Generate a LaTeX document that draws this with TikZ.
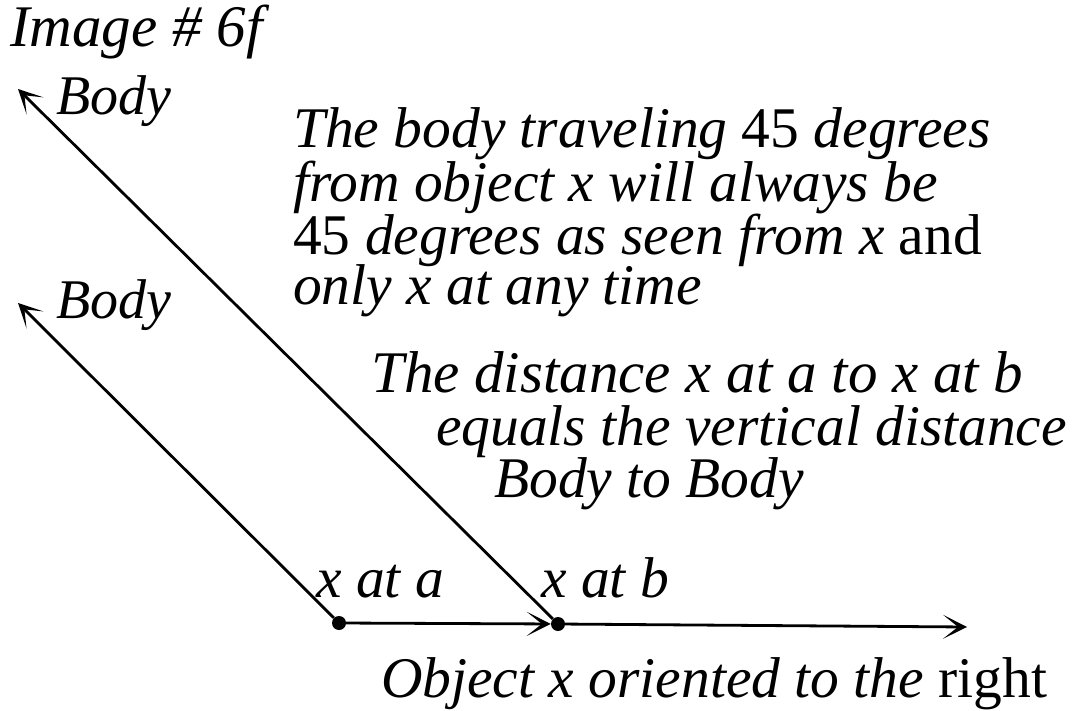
\documentclass[tikz,border=0pt]{standalone}
\usepackage{fontspec}
\setmainfont{Liberation Serif}
\usetikzlibrary{arrows.meta}
\begin{document}
\begin{tikzpicture}[x=1pt,y=-1pt,
  lbl/.style={inner sep=0pt,anchor=base west,font=\fontsize{57.5}{62}\selectfont\itshape},
  para/.style={inner sep=0pt,anchor=base west,align=left,font=\fontsize{57.5}{54}\selectfont\itshape},
  bdy/.style={inner sep=0pt,anchor=base west,font=\fontsize{56}{60}\selectfont\itshape},
  ttl/.style={inner sep=0pt,anchor=base west,font=\fontsize{59}{64}\selectfont\itshape},
  ray/.style={line width=2.8pt,-{Stealth[length=24pt,width=24pt,inset=15pt]}},
  dot/.style={circle,fill=black,inner sep=0pt,minimum size=14pt}]
\useasboundingbox (0,0) rectangle (1073,711);
\node[dot] (a) at (339,623) {};
\node[dot] (b) at (558,624) {};
\coordinate (endR) at (967,627);
\coordinate (tipA) at (18,303);
\coordinate (tipB) at (18,89);
\draw[ray] (a) -- (b);
\draw[ray] (b) -- (endR);
\draw[ray] (a) -- (tipA);
\draw[ray] (b) -- (tipB);
\node[ttl] (img) at (10,47) {Image \# 6f};
\node[bdy] (body1) at (56,115) {Body};
\node[bdy] (body2) at (56,318) {Body};
\node[para] (p) at (293,304) {The body traveling \upshape45\itshape\ degrees\\
from object x will always be\\
\upshape45\itshape\ degrees as seen from x \upshape and\\[-5pt]
only x at any time};
\node[lbl,font=\fontsize{59}{64}\selectfont\itshape] (q1) at (371,392) {The distance x at a to x at b};
\node[lbl] (q2) at (436,445) {equals the vertical distance};
\node[lbl] (q3) at (494,497) {Body to Body};
\node[lbl] (xa) at (316,597) {x at a};
\node[lbl] (xb) at (541,597) {x at b};
\node[lbl] (obj) at (381,697) {Object x oriented to the \upshape right};
\end{tikzpicture}
\end{document}
